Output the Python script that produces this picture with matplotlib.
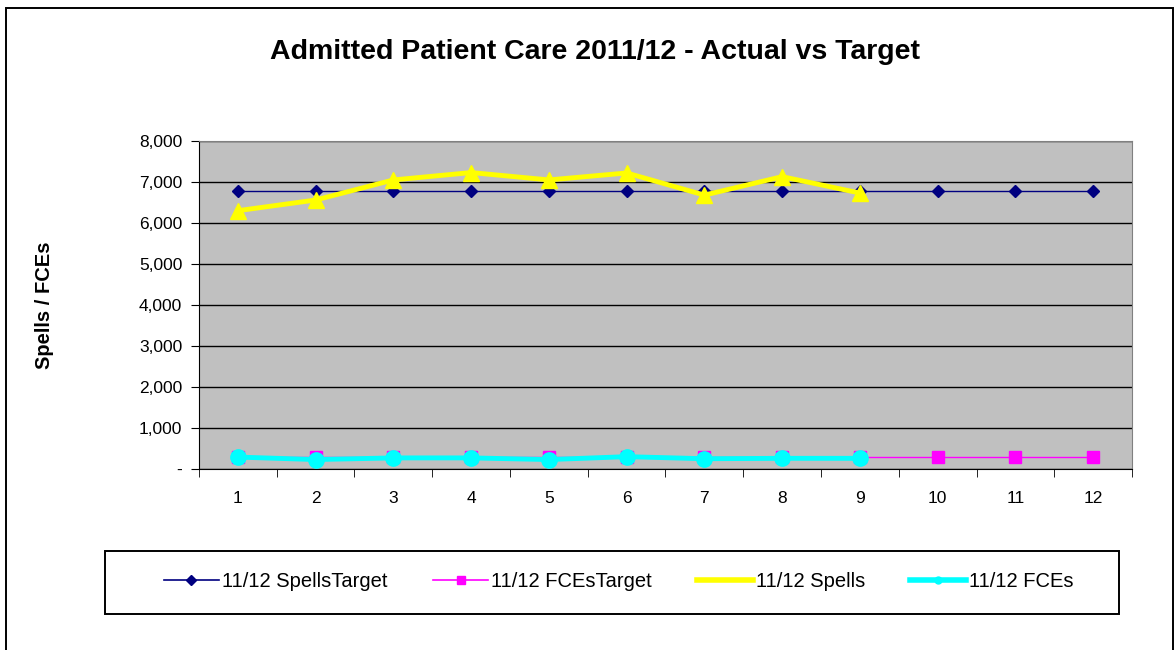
import matplotlib
matplotlib.use("Agg")
import matplotlib.pyplot as plt
from matplotlib.patches import Rectangle
from matplotlib.lines import Line2D

plt.rcParams['font.family'] = ['Liberation Sans', 'DejaVu Sans']

months = [1, 2, 3, 4, 5, 6, 7, 8, 9, 10, 11, 12]
spells_target = [6780] * 12
fces_target = [290] * 12
spells = [6300, 6560, 7050, 7230, 7050, 7220, 6680, 7130, 6730]
fces = [290, 230, 270, 270, 230, 300, 250, 260, 260]
ytick_vals = [0, 1000, 2000, 3000, 4000, 5000, 6000, 7000, 8000]
ytick_labels = ['-', '1,000', '2,000', '3,000', '4,000', '5,000', '6,000', '7,000', '8,000']

fig = plt.figure(figsize=(11.76, 6.5), dpi=100)
fig.patch.set_facecolor('white')
# outer chart border (runs off the bottom edge like the original)
fig.add_artist(Rectangle((0.0051, -0.02), 0.9924, 1.0077, transform=fig.transFigure,
                         fill=False, edgecolor='black', linewidth=1.4))

ax = fig.add_axes([0.1692, 0.2785, 0.7934, 0.5046])
ax.set_facecolor('#c0c0c0')

ax.plot(months, spells_target, color='#000080', linewidth=1, marker='D', markersize=6,
        label='11/12 SpellsTarget', zorder=3)
ax.plot(months, fces_target, color='#ff00ff', linewidth=1, marker='s', markersize=8,
        label='11/12 FCEsTarget', zorder=3)
ax.plot(months[:len(spells)], spells, color='#ffff00', linewidth=3.5, marker='^', markersize=11,
        label='11/12 Spells', zorder=4)
ax.plot(months[:len(fces)], fces, color='#00ffff', linewidth=3.5, marker='o', markersize=11,
        label='11/12 FCEs', zorder=4)

ax.set_xlim(0.5, 12.5)
ax.set_ylim(0, 8000)
ax.set_yticks(ytick_vals)
ax.set_yticklabels(ytick_labels, fontsize=12.5)
ax.yaxis.grid(True, color='black', linewidth=1)
ax.set_axisbelow(True)

ax.set_xticks(months)
ax.set_xticklabels([str(m) for m in months], fontsize=12.5)
ax.set_xticks([m + 0.5 for m in [0] + months], minor=True)
ax.tick_params(axis='x', which='major', length=0, pad=16)
ax.tick_params(axis='x', which='minor', length=6, direction='out', color='black')
ax.tick_params(axis='y', length=6, direction='out', pad=6)

for side in ['top', 'right']:
    ax.spines[side].set_color('#808080')
ax.spines['left'].set_color('black')
ax.spines['bottom'].set_color('black')

fig.text(0.038, 0.53, 'Spells / FCEs', rotation=90, ha='center', va='center',
         fontsize=14.5, fontweight='bold')
fig.text(0.506, 0.92, 'Admitted Patient Care 2011/12 - Actual vs Target',
         ha='center', va='center', fontsize=20.5, fontweight='bold')

# legend box
fig.add_artist(Rectangle((0.0893, 0.0554), 0.8622, 0.0969, transform=fig.transFigure,
                         fill=True, facecolor='white', edgecolor='black', linewidth=1.4))
handles = [
    Line2D([], [], color='#000080', linewidth=1.2, marker='D', markersize=5),
    Line2D([], [], color='#ff00ff', linewidth=1.2, marker='s', markersize=6),
    Line2D([], [], color='#ffff00', linewidth=4),
    Line2D([], [], color='#00ffff', linewidth=4, marker='o', markersize=5),
]
labels = ['11/12 SpellsTarget', '11/12 FCEsTarget', '11/12 Spells', '11/12 FCEs']
leg = fig.legend(handles, labels, loc='center', bbox_to_anchor=(0.526, 0.106), ncol=4,
                 frameon=False, fontsize=14.5, handlelength=2.75, columnspacing=2.25,
                 handletextpad=0.15)

fig.savefig('out.png', dpi=100)
